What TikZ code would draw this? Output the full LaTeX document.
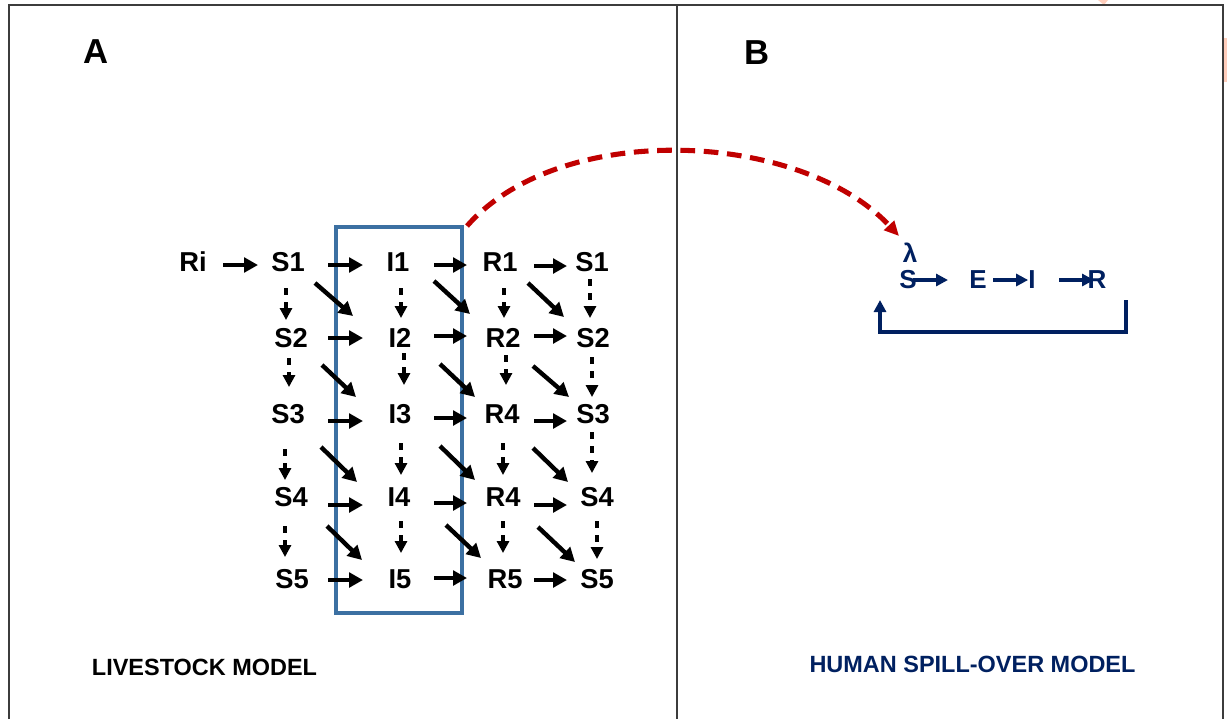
\documentclass[tikz,border=0pt]{standalone}
\usepackage{fontspec}
\setmainfont{Liberation Sans}
\usetikzlibrary{arrows.meta,calc}
\definecolor{navy}{RGB}{0,32,96}
\definecolor{boxblue}{RGB}{60,112,162}
\definecolor{darkred}{RGB}{192,0,0}
\definecolor{wmorange}{RGB}{255,206,188}
\definecolor{framegray}{RGB}{60,60,60}
\begin{document}
\begin{tikzpicture}[x=0.75pt,y=-0.75pt,
  lbl/.style={font=\fontsize{20.5}{22}\selectfont\bfseries, inner sep=0pt},
  blbl/.style={font=\fontsize{19.5}{21}\selectfont\bfseries, text=navy, inner sep=0pt},
  panel/.style={font=\fontsize{26}{28}\selectfont\bfseries, inner sep=0pt},
  title/.style={font=\fontsize{17.6}{20}\selectfont\bfseries, inner sep=0pt},
  ha/.style={line width=3.3pt, -{Triangle[length=10.5pt,width=11pt]}},
  da/.style={line width=3.3pt, -{Triangle[length=10.5pt,width=11pt]}},
  va/.style={line width=2.7pt, dash pattern=on 5.5pt off 5pt, -{Triangle[length=9pt,width=9pt]}},
  na/.style={line width=2.7pt, draw=navy, -{Triangle[length=9pt,width=9pt]}},
  backflow/.style={line width=2.7pt, draw=navy, -{Triangle[length=9pt,width=9pt]}},
  spill/.style={line width=3.8pt, draw=darkred, dash pattern=on 11pt off 6.5pt, -{Triangle[length=11pt,width=10pt]}},
  frame/.style={line width=1.1pt, draw=framegray}
]
\useasboundingbox (0,0) rectangle (1227,719);
% watermark remnants
\fill[wmorange] (1098,0) -- (1108,0) -- (1104,5) -- cycle;
\fill[wmorange] (1224,38) rectangle (1227,82);
% frame
\draw[frame] (9,719) -- (9,5) -- (1223,5) -- (1223,719);
\draw[frame, line width=0.9pt] (677,5) -- (677,719);

% panel labels
\node[panel] (A) at (96,52) {A};
\node[panel] (B) at (757,53) {B};
\node[title] (lsm) at (204.5,667) {LIVESTOCK MODEL};
\node[title, text=navy] (hsm) at (972.5,664) {HUMAN SPILL-OVER MODEL};

% blue box
\node[draw=boxblue, line width=3pt, minimum width=94.5pt, minimum height=289.5pt, inner sep=0pt] (box) at (399,420) {};

% grid nodes
\node[lbl] (Ri) at (193,262) {Ri};
\node[lbl] (S1) at (288,262) {S1};
\node[lbl] (I1) at (398,262) {I1};
\node[lbl] (R1) at (500,262) {R1};
\node[lbl] (T1) at (592,262) {S1};
\node[lbl] (S2) at (291,338) {S2};
\node[lbl] (I2) at (400,338) {I2};
\node[lbl] (R2) at (503,338) {R2};
\node[lbl] (T2) at (593,338) {S2};
\node[lbl] (S3) at (288,414) {S3};
\node[lbl] (I3) at (400,414) {I3};
\node[lbl] (R3) at (502,414) {R4};
\node[lbl] (T3) at (593,414) {S3};
\node[lbl] (S4) at (291,497) {S4};
\node[lbl] (I4) at (399,497) {I4};
\node[lbl] (R4) at (503,497) {R4};
\node[lbl] (T4) at (597,497) {S4};
\node[lbl] (S5) at (292,579) {S5};
\node[lbl] (I5) at (400,579) {I5};
\node[lbl] (R5) at (505,579) {R5};
\node[lbl] (T5) at (597,579) {S5};

% horizontal arrows
\draw[ha] ($(Ri)+(30,3)$) -- ($(S1)+(-30,3)$);
\draw[ha] ($(S1)+(40,3)$) -- ($(I1)+(-35,3)$);
\draw[ha] ($(I1)+(36,3)$) -- ($(R1)+(-33,3)$);
\draw[ha] ($(R1)+(34,4)$) -- ($(T1)+(-25,4)$);
\draw[ha] ($(S2)+(37,0)$) -- ($(I2)+(-37,0)$);
\draw[ha] ($(I2)+(34,-2)$) -- ($(R2)+(-36,-2)$);
\draw[ha] ($(R2)+(31,-2)$) -- ($(T2)+(-26,-2)$);
\draw[ha] ($(S3)+(40,7)$) -- ($(I3)+(-37,7)$);
\draw[ha] ($(I3)+(34,4)$) -- ($(R3)+(-35,4)$);
\draw[ha] ($(R3)+(32,7)$) -- ($(T3)+(-26,7)$);
\draw[ha] ($(S4)+(37,8)$) -- ($(I4)+(-36,8)$);
\draw[ha] ($(I4)+(35,6)$) -- ($(R4)+(-36,6)$);
\draw[ha] ($(R4)+(31,8)$) -- ($(T4)+(-30,8)$);
\draw[ha] ($(S5)+(36,1)$) -- ($(I5)+(-37,1)$);
\draw[ha] ($(I5)+(34,-1)$) -- ($(R5)+(-38,-1)$);
\draw[ha] ($(R5)+(29,1)$) -- ($(T5)+(-30,1)$);

% vertical dashed arrows
\draw[va] ($(S1)+(-2,26)$) -- ($(S2)+(-5,-18)$);
\draw[va] ($(S2)+(-2,20)$) -- ($(S3)+(1,-27)$);
\draw[va] ($(S3)+(-3,35)$) -- ($(S4)+(-6,-17)$);
\draw[va] ($(S4)+(-6,29)$) -- ($(S5)+(-7,-22)$);
\draw[va] ($(I1)+(3,26)$) -- ($(I2)+(1,-20)$);
\draw[va] ($(I2)+(4,15)$) -- ($(I3)+(4,-29)$);
\draw[va] ($(I3)+(1,29)$) -- ($(I4)+(2,-22)$);
\draw[va] ($(I4)+(2,24)$) -- ($(I5)+(1,-26)$);
\draw[va] ($(R1)+(4,26)$) -- ($(R2)+(1,-20)$);
\draw[va] ($(R2)+(3,17)$) -- ($(R3)+(4,-29)$);
\draw[va] ($(R3)+(1,29)$) -- ($(R4)+(0,-22)$);
\draw[va] ($(R4)+(0,24)$) -- ($(R5)+(-2,-26)$);
\draw[va] ($(T1)+(-2,17)$) -- ($(T2)+(-3,-20)$);
\draw[va] ($(T2)+(-1,19)$) -- ($(T3)+(-1,-17)$);
\draw[va] ($(T3)+(-1,18)$) -- ($(T4)+(-5,-24)$);
\draw[va] ($(T4)+(0,24)$) -- ($(T5)+(0,-20)$);

% diagonal arrows
\draw[da] ($(S1)+(27,21)$) -- ($(I2)+(-47,-22)$);
\draw[da] ($(S2)+(31,27)$) -- ($(I3)+(-44,-17)$);
\draw[da] ($(S3)+(33,33)$) -- ($(I4)+(-42,-15)$);
\draw[da] ($(S4)+(36,29)$) -- ($(I5)+(-38,-19)$);
\draw[da] ($(I1)+(36,19)$) -- ($(R2)+(-33,-24)$);
\draw[da] ($(I2)+(40,26)$) -- ($(R3)+(-27,-17)$);
\draw[da] ($(I3)+(40,32)$) -- ($(R4)+(-28,-17)$);
\draw[da] ($(I4)+(47,28)$) -- ($(R5)+(-24,-21)$);
\draw[da] ($(R1)+(28,21)$) -- ($(T2)+(-29,-21)$);
\draw[da] ($(R2)+(30,28)$) -- ($(T3)+(-24,-17)$);
\draw[da] ($(R3)+(31,34)$) -- ($(T4)+(-29,-15)$);
\draw[da] ($(R4)+(35,30)$) -- ($(T5)+(-22,-17)$);

% panel B model
\node[blbl] (lam) at (910,253) {λ};
\node[blbl] (S) at (908,280) {S};
\node[blbl] (E) at (978,280) {E};
\node[blbl] (I) at (1032,280) {I};
\node[blbl] (R) at (1097,280) {R};
\draw[na] ($(S)+(5,0)$) -- ($(E)+(-30,0)$);
\draw[na] ($(E)+(15,0)$) -- (I.west);
\draw[na] ($(I)+(27,0)$) -- ($(R)+(-3,0)$);
\draw[backflow] ($(R)+(29,20)$) |- ($(S)+(-28,52)$) -- ($(S)+(-28,20)$);

% spill-over curve
\draw[spill] ($(box.north east)+(3,1)$) .. controls (560,120) and (800,130) .. ($(lam)+(-11,-17)$);
\end{tikzpicture}
\end{document}
